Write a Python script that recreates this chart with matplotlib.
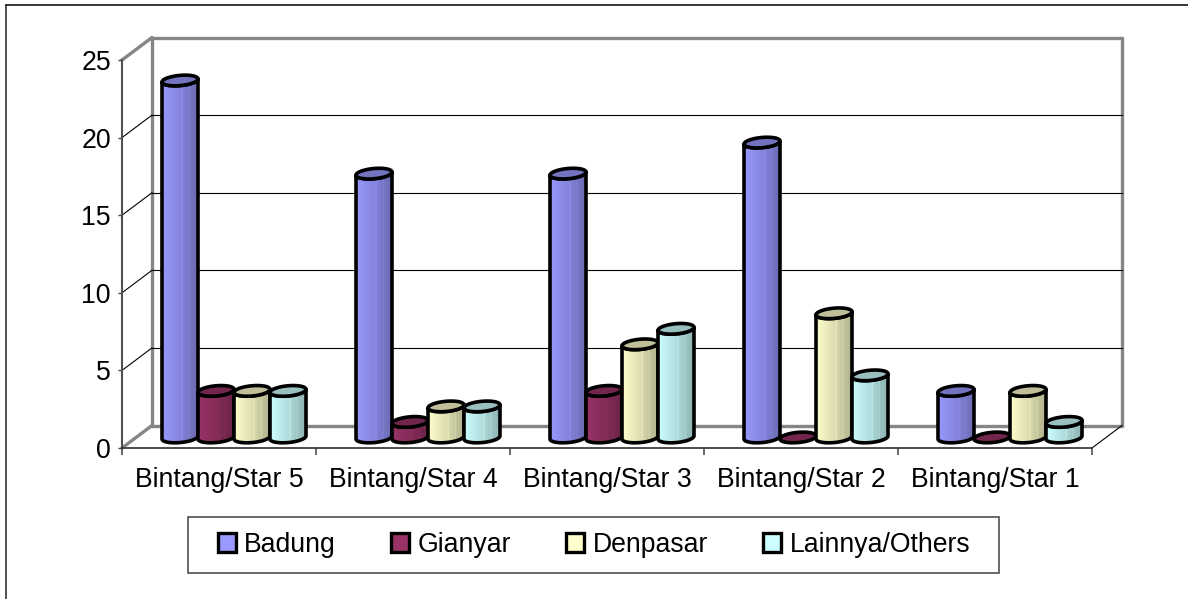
import matplotlib

matplotlib.use("Agg")
import matplotlib.pyplot as plt
import numpy as np
from matplotlib.colors import LinearSegmentedColormap, to_rgb
from matplotlib.lines import Line2D
from matplotlib.patches import PathPatch, Rectangle
from matplotlib.path import Path

plt.rcParams["font.family"] = ["Liberation Sans", "DejaVu Sans"]

categories = [
    "Bintang/Star 5",
    "Bintang/Star 4",
    "Bintang/Star 3",
    "Bintang/Star 2",
    "Bintang/Star 1",
]
series_names = ["Badung", "Gianyar", "Denpasar", "Lainnya/Others"]
badung = [23, 17, 17, 19, 3]
gianyar = [3, 1, 3, 0, 0]
denpasar = [3, 2, 6, 8, 3]
lainnya = [3, 2, 7, 4, 1]
y_ticks = [0, 5, 10, 15, 20, 25]
series_colors = ["#9999FF", "#993366", "#FFFFCC", "#CCFFFF"]

W, H = 1188, 599
FONT = 19.2
WALL = "#868686"

# chart depth, in data units
DEPTH_X = 30 / 194
DEPTH_Y = 22.5 / 15.52
BAR_W = 36 / 194
GROUP_START = 40 / 194
BASE_Y = 0.68
RISE_B = 0.33
RISE_K = 0.1


def shade(color, factor):
    return tuple(c * factor for c in to_rgb(color))


def make_cmap(color):
    stops = [
        (0.0, shade(color, 1.0)),
        (0.25, shade(color, 0.93)),
        (0.54, shade(color, 0.86)),
        (0.56, shade(color, 0.96)),
        (0.58, shade(color, 0.84)),
        (0.74, shade(color, 0.78)),
        (0.76, shade(color, 0.86)),
        (0.78, shade(color, 0.76)),
        (1.0, shade(color, 0.7)),
    ]
    return LinearSegmentedColormap.from_list("cyl", stops)


def arc(cx, cy, half_w, t0, t1):
    t = np.linspace(t0, t1, 40)
    return np.c_[
        cx + half_w * np.cos(t), cy + RISE_B * np.sin(t) + RISE_K * np.cos(t)
    ]


def draw_cylinder(ax, x0, value, color, z):
    half_w = BAR_W / 2
    cx = x0 + half_w
    top = BASE_Y + value
    lower = arc(cx, BASE_Y, half_w, np.pi, 2 * np.pi)
    upper = arc(cx, top, half_w, 2 * np.pi, np.pi)
    verts = np.vstack([lower, upper, lower[:1]])
    body = Path(verts, closed=True)

    if value > 0:
        edge = PathPatch(
            body, facecolor="none", edgecolor="black", lw=2.6, zorder=z + 0.2,
            clip_on=False, joinstyle="round",
        )
        ax.add_patch(edge)
        clip = PathPatch(body, transform=ax.transData, facecolor="none", edgecolor="none")
        ax.add_patch(clip)
        im = ax.imshow(
            np.linspace(0, 1, 256)[None, :],
            extent=[x0, x0 + BAR_W, BASE_Y - 1, top + 1],
            cmap=make_cmap(color),
            aspect="auto",
            zorder=z,
        )
        im.set_clip_path(clip)

    cap = Path(arc(cx, top, half_w, 0, 2 * np.pi), closed=True)
    ax.add_patch(
        PathPatch(
            cap, facecolor=shade(color, 0.75), edgecolor="black", lw=2.6,
            zorder=z + 0.3, clip_on=False,
        )
    )


fig = plt.figure(figsize=(W / 100, H / 100), dpi=100)
ax = fig.add_axes([122 / W, 1 - 448 / H, 970 / W, 388 / H])
ax.set_xlim(0, len(categories))
ax.set_ylim(0, 25)
ax.set_autoscale_on(False)
ax.patch.set_visible(False)

for side in ["top", "right"]:
    ax.spines[side].set_visible(False)
ax.spines["left"].set_color("#505050")
ax.spines["left"].set_linewidth(1.5)
ax.spines["bottom"].set_color("#303030")
ax.spines["bottom"].set_linewidth(1.2)

ax.set_yticks(y_ticks)
ax.tick_params(axis="y", labelsize=FONT, length=3, width=1, pad=5, color="#404040")
ax.set_xticks(np.arange(len(categories) + 1))
ax.set_xticklabels([])
ax.tick_params(axis="x", which="major", length=5, width=1.1, color="#404040")
ax.set_xticks(np.arange(len(categories)) + 0.5, minor=True)
ax.set_xticklabels(categories, minor=True, fontsize=FONT)
ax.tick_params(axis="x", which="minor", length=0, pad=13.5)

# back walls and floor
n = len(categories)
wall_kw = dict(color=WALL, lw=2.4, clip_on=False, zorder=1, solid_capstyle="round")
ax.plot([DEPTH_X, n + DEPTH_X], [25 + DEPTH_Y, 25 + DEPTH_Y], **wall_kw)
ax.plot([DEPTH_X, n + DEPTH_X], [DEPTH_Y, DEPTH_Y], **wall_kw)
ax.plot([DEPTH_X, DEPTH_X], [DEPTH_Y, 25 + DEPTH_Y], **wall_kw)
ax.plot([n + DEPTH_X, n + DEPTH_X], [DEPTH_Y, 25 + DEPTH_Y], **wall_kw)
ax.plot([0, DEPTH_X], [25, 25 + DEPTH_Y], **wall_kw)
ax.plot([0, DEPTH_X], [0, DEPTH_Y], **wall_kw)
ax.plot([n, n + DEPTH_X], [0, DEPTH_Y], color="black", lw=0.8, clip_on=False, zorder=1)

for v in y_ticks[1:-1]:
    ax.plot([0, DEPTH_X], [v, v + DEPTH_Y], color="black", lw=0.8, clip_on=False, zorder=1.5)
    ax.plot([DEPTH_X, n + DEPTH_X], [v + DEPTH_Y, v + DEPTH_Y], color="black", lw=0.8, clip_on=False, zorder=1.5)

all_series = [badung, gianyar, denpasar, lainnya]
z = 3
for c in range(n):
    for s, values in enumerate(all_series):
        draw_cylinder(ax, c + GROUP_START + s * BAR_W, values[c], series_colors[s], z)
        z += 1

# legend frame is separate, its padding differs between x and y
fig.add_artist(
    Rectangle(
        (188 / W, 1 - 573 / H), 811 / W, 56 / H, transform=fig.transFigure,
        facecolor="white", edgecolor="#404040", lw=1.1, zorder=4,
    )
)
handles = [
    Rectangle((0, 0), 1, 1, facecolor=col, edgecolor="black", lw=2.4)
    for col in series_colors
]
leg = fig.legend(
    handles,
    series_names,
    ncol=4,
    loc="center",
    bbox_to_anchor=(594 / W, 1 - 545 / H),
    fontsize=FONT,
    frameon=False,
    handlelength=0.68,
    handleheight=0.68,
    handletextpad=0.32,
    columnspacing=2.06,
    borderaxespad=0,
)
leg.set_zorder(5)

# outer chart border, only top and left fall inside the picture
fig.add_artist(Line2D([5.5 / W, 1], [1 - 4.5 / H, 1 - 4.5 / H], color="black", lw=1.1))
fig.add_artist(Line2D([5.5 / W, 5.5 / W], [0, 1 - 4.5 / H], color="#202020", lw=1.1))

fig.savefig("out.png", dpi=100)
